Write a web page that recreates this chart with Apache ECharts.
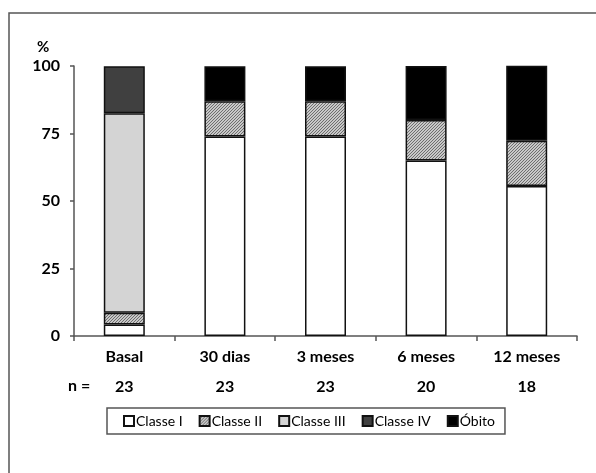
<!DOCTYPE html>
<html>
<head>
<meta charset="utf-8">
<script src="https://cdn.jsdelivr.net/npm/echarts@6/dist/echarts.min.js"></script>
<style>
html,body{margin:0;padding:0;background:#fff;}
#chart{width:596px;height:473px;}
</style>
</head>
<body>
<div id="chart"></div>
<script>
const categories = ['Basal', '30 dias', '3 meses', '6 meses', '12 meses'];
const nValues = [23, 23, 23, 20, 18];
const seriesNames = ['Classe I', 'Classe II', 'Classe III', 'Classe IV', 'Óbito'];
const classeI = [4.3, 73.9, 73.9, 65, 55.6];
const classeII = [4.3, 13.0, 13.0, 15, 16.7];
const classeIII = [73.9, null, null, null, null];
const classeIV = [17.4, null, null, null, null];
const obito = [null, 13.0, 13.0, 20, 27.8];
const yTicks = [0, 25, 50, 75, 100];

// hatch pattern for Classe II
const pc = document.createElement('canvas');
pc.width = 3; pc.height = 3;
const g = pc.getContext('2d');
g.fillStyle = '#c8c8c8';
g.fillRect(0, 0, 3, 3);
g.fillStyle = '#6e6e6e';
g.fillRect(2, 0, 1, 1);
g.fillRect(1, 1, 1, 1);
g.fillRect(0, 2, 1, 1);
const hatch = { image: pc, repeat: 'repeat' };

const fills = ['#ffffff', hatch, '#d4d4d4', '#404040', '#000000'];
const dataSets = [classeI, classeII, classeIII, classeIV, obito];

const FONT = 'Lato';
const chart = echarts.init(document.getElementById('chart'), null, { renderer: 'canvas' });

const series = seriesNames.map((name, i) => ({
  name: name,
  type: 'bar',
  stack: 'total',
  barWidth: 41,
  data: dataSets[i],
  itemStyle: { color: fills[i], borderColor: '#111', borderWidth: 1.5 },
  emphasis: { disabled: true },
  animation: false
}));

chart.setOption({
  animation: false,
  grid: { left: 74, right: 19, top: 66, bottom: 137, containLabel: false },
  xAxis: {
    type: 'category',
    data: categories,
    boundaryGap: true,
    axisLine: { show: true, lineStyle: { color: '#555', width: 1.5 } },
    axisTick: { show: true, alignWithLabel: false, length: 5, lineStyle: { color: '#555', width: 1.5 } },
    axisLabel: {
      margin: 6,
      interval: 0,
      formatter: function (v, idx) { return '{a|' + v + '}\n{b|' + nValues[idx] + '}'; },
      rich: {
        a: { fontFamily: FONT, fontWeight: 'bold', fontSize: 16, color: '#000', lineHeight: 30 },
        b: { fontFamily: FONT, fontWeight: 'bold', fontSize: 16, color: '#000', lineHeight: 30 }
      }
    }
  },
  yAxis: {
    type: 'value',
    min: 0, max: 100, interval: 25,
    axisLine: { show: true, lineStyle: { color: '#555', width: 1.5 } },
    axisTick: { show: true, length: 4, lineStyle: { color: '#555', width: 1.5 } },
    splitLine: { show: false },
    axisLabel: {
      margin: 14,
      fontFamily: FONT, fontWeight: 'bold', fontSize: 16, color: '#000',
      formatter: function (v) { return yTicks.indexOf(v) >= 0 ? String(v) : ''; }
    }
  },
  legend: {
    data: seriesNames,
    left: 107, top: 408,
    icon: 'rect',
    itemWidth: 10, itemHeight: 10,
    itemGap: 16,
    padding: [6, 10, 6, 16],
    borderColor: '#555', borderWidth: 1.5,
    backgroundColor: '#fff',
    selectedMode: false,
    textStyle: { fontFamily: FONT, fontSize: 14, color: '#000', padding: [0, 0, 0, -3] }
  },
  graphic: [
    { type: 'rect', shape: { x: 9, y: 13, width: 700, height: 600 }, style: { fill: 'none', stroke: '#555', lineWidth: 1.5 }, silent: true, z: -1 },
    { type: 'text', left: 37, top: 40, style: { text: '%', fontFamily: FONT, fontWeight: 'bold', fontSize: 15, fill: '#000' } },
    { type: 'text', left: 68, top: 378, style: { text: 'n =', fontFamily: FONT, fontWeight: 'bold', fontSize: 16, fill: '#000' } }
  ],
  series: series
});
</script>
</body>
</html>
